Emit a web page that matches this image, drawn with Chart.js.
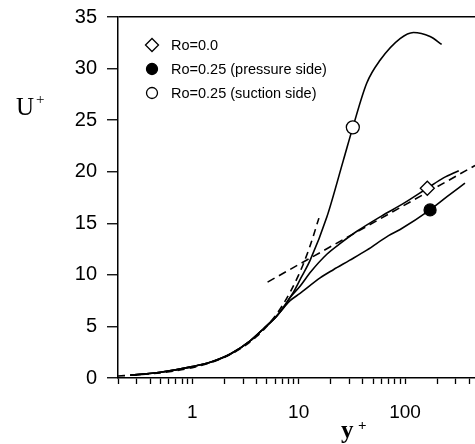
<!DOCTYPE html>
<html>
<head>
<meta charset="utf-8">
<script src="https://cdn.jsdelivr.net/npm/chart.js@4/dist/chart.umd.min.js"></script>
<style>
  html, body { margin: 0; padding: 0; background: #fff; overflow: hidden; }
  #wrap { position: relative; width: 475px; height: 444px; }
</style>
</head>
<body>
<div id="wrap"><canvas id="profileChart"></canvas></div>
<script>
// Ro=0.0 (diamond marker)
const ro0Y = [0.26, 0.5, 1, 1.5, 2.3, 3.5, 4.7, 6.2, 7.2, 8.3, 10.3, 13, 18.4, 25, 35, 60, 96, 162, 230, 320];
const ro0U = [0.27, 0.55, 1.1, 1.55, 2.35, 3.6, 4.8, 6.0, 6.8, 7.8, 8.9, 10.3, 12.0, 13.1, 14.2, 15.7, 16.9, 18.4, 19.4, 20.1];

// Ro=0.25 pressure side (filled circle)
const pressureY = [0.26, 0.5, 1, 1.5, 2.3, 3.5, 4.7, 6.2, 7.2, 8.3, 10.3, 15.9, 21.2, 30, 43.7, 70, 90, 172, 250, 366];
const pressureU = [0.27, 0.55, 1.1, 1.55, 2.35, 3.6, 4.8, 6.0, 6.8, 7.5, 8.2, 9.7, 10.5, 11.4, 12.4, 13.8, 14.4, 16.3, 17.6, 18.9];

// Ro=0.25 suction side (open circle)
const suctionY = [0.26, 0.5, 1, 1.5, 2.3, 3.5, 4.7, 6.2, 7.2, 8.9, 10.5, 12.8, 18.4, 26.3, 32.3, 43.7, 58.2, 89.8, 120, 172, 221];
const suctionU = [0.27, 0.55, 1.1, 1.55, 2.35, 3.6, 4.8, 6.0, 6.9, 8.3, 9.7, 11.4, 15.6, 21.1, 24.3, 28.6, 30.8, 32.9, 33.5, 33.1, 32.35];

// dashed reference lines
const linearY = [0.2, 0.3, 0.5, 0.7, 1, 1.5, 2, 3, 4, 5, 7, 10, 12.5, 15.5];
const linearU = [0.2, 0.3, 0.5, 0.7, 1, 1.5, 2, 3, 4, 5, 7, 10, 12.5, 15.5];
const logLawY = [5.1, 455];
const logLawU = [9.3, 20.6];

// marker points
const legendLabels = ['Ro=0.0', 'Ro=0.25 (pressure side)', 'Ro=0.25 (suction side)'];
const markerY = [162, 172, 32.3];
const markerU = [18.4, 16.3, 24.3];

// axes
const xTickValues = [0.2, 0.3, 0.4, 0.5, 0.6, 0.7, 0.8, 0.9, 1, 2, 3, 4, 5, 6, 7, 8, 9, 10,
                     20, 30, 40, 50, 60, 70, 80, 90, 100, 200, 300, 400];
const xTickLabels = [1, 10, 100];

const toPoints = (xs, ys) => xs.map((x, i) => ({ x: x, y: ys[i] }));

const curve = (xs, ys, dash) => ({
    data: toPoints(xs, ys),
    borderColor: '#000',
    borderWidth: 1.6,
    borderDash: dash || [],
    pointRadius: 0,
    pointHoverRadius: 0,
    cubicInterpolationMode: 'monotone',
    fill: false,
    order: 1
});

const markerStyles = [
    { pointStyle: 'rectRot', bg: '#fff', radius: 7 },
    { pointStyle: 'circle', bg: '#000', radius: 6 },
    { pointStyle: 'circle', bg: '#fff', radius: 6.5 }
];

const markerSets = legendLabels.map((label, i) => ({
    label: label,
    data: [{ x: markerY[i], y: markerU[i] }],
    showLine: false,
    pointStyle: markerStyles[i].pointStyle,
    pointRadius: markerStyles[i].radius,
    pointHoverRadius: markerStyles[i].radius,
    pointBackgroundColor: markerStyles[i].bg,
    pointBorderColor: '#000',
    pointBorderWidth: 1.3,
    order: 0
}));

// legend drawn inside the plot area, plus the axis titles
const insideLegend = {
    id: 'insideLegend',
    afterDraw(chart) {
        const { ctx, chartArea } = chart;
        ctx.save();
        legendLabels.forEach((label, i) => {
            const x = chartArea.left + 34;
            const y = chartArea.top + 28 + i * 24;
            ctx.fillStyle = markerStyles[i].bg;
            ctx.strokeStyle = '#000';
            ctx.lineWidth = 1.3;
            Chart.helpers.drawPoint(ctx, {
                pointStyle: markerStyles[i].pointStyle,
                radius: i === 0 ? 6.5 : 5.5,
                rotation: 0,
                borderWidth: 1.3
            }, x, y);
            ctx.fillStyle = '#000';
            ctx.font = '14.5px "Liberation Sans", Arial, sans-serif';
            ctx.textAlign = 'left';
            ctx.textBaseline = 'middle';
            ctx.fillText(label, x + 19, y + 1);
        });

        // axis titles
        ctx.fillStyle = '#000';
        ctx.textBaseline = 'alphabetic';
        ctx.font = '25px "Liberation Serif", "Times New Roman", serif';
        ctx.fillText('U', 16, 115);
        ctx.font = '15px "Liberation Serif", "Times New Roman", serif';
        ctx.fillText('+', 36, 104);
        ctx.font = 'bold 25px "Liberation Serif", "Times New Roman", serif';
        ctx.fillText('y', 341, 438);
        ctx.font = 'bold 15px "Liberation Serif", "Times New Roman", serif';
        ctx.fillText('+', 358, 430);
        ctx.restore();
    }
};

const tickFont = (size) => ({ family: '"Liberation Sans", Arial, sans-serif', size: size });

new Chart(document.getElementById('profileChart'), {
    type: 'line',
    data: {
        datasets: markerSets.concat([
            curve(ro0Y, ro0U),
            curve(pressureY, pressureU),
            curve(suctionY, suctionU),
            curve(linearY, linearU, [7, 5]),
            curve(logLawY, logLawU, [8, 5])
        ])
    },
    options: {
        responsive: true,
        maintainAspectRatio: false,
        animation: false,
        layout: { autoPadding: false, padding: { top: 17, right: 0, left: 0, bottom: 0 } },
        plugins: {
            legend: { display: false },
            tooltip: { enabled: false }
        },
        scales: {
            x: {
                type: 'logarithmic',
                min: 0.2,
                max: 455,
                afterBuildTicks: (scale) => {
                    scale.ticks = xTickValues.map(v => ({ value: v }));
                },
                afterFit: (scale) => {
                    scale.height = 66;
                    scale.paddingLeft = 0;
                    scale.paddingRight = 0;
                },
                border: { display: true, color: '#000', width: 1.5 },
                grid: {
                    drawOnChartArea: false,
                    drawTicks: true,
                    tickLength: 6,
                    tickColor: '#000',
                    tickWidth: 1.3
                },
                ticks: {
                    autoSkip: false,
                    maxRotation: 0,
                    padding: 17,
                    color: '#000',
                    font: tickFont(19),
                    callback: (value) => xTickLabels.includes(value) ? String(value) : ''
                }
            },
            y: {
                min: 0,
                max: 35,
                afterFit: (scale) => {
                    scale.width = 118;
                    scale.paddingTop = 0;
                    scale.paddingBottom = 0;
                },
                border: { display: true, color: '#000', width: 1.5 },
                grid: {
                    color: (c) => (c.tick && c.tick.value === 35) ? '#000' : 'rgba(0,0,0,0)',
                    lineWidth: 1.5,
                    tickLength: 11,
                    tickColor: '#000',
                    tickWidth: 1.3
                },
                ticks: {
                    stepSize: 5,
                    padding: 10,
                    color: '#000',
                    font: tickFont(20)
                }
            }
        }
    },
    plugins: [insideLegend]
});
</script>
</body>
</html>
